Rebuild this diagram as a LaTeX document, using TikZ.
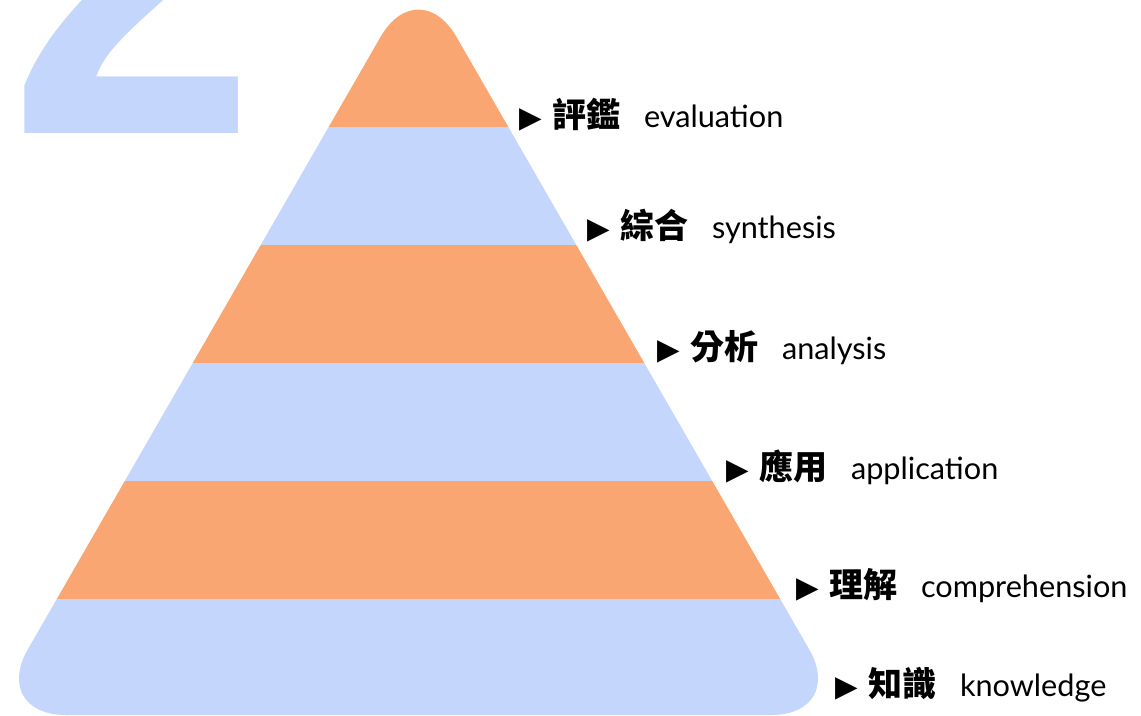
\documentclass[tikz,border=0pt]{standalone}
\usepackage{fontspec}
\newfontfamily\cjkfont{Noto Sans CJK TC}
\newfontfamily\latinfont{Lato}
\newfontfamily\trifont{DejaVu Sans}
\newfontfamily\digitfont{Liberation Sans}
\definecolor{orangeband}{RGB}{249,166,114}
\definecolor{blueband}{RGB}{196,214,252}
\newcommand\lvlabel[2]{\makebox[24.75pt][l]{\trifont\fontsize{22pt}{22pt}\selectfont ▶}\makebox[69pt][l]{\cjkfont\bfseries\fontsize{25.5pt}{26pt}\selectfont #1}{\latinfont\fontsize{23pt}{24pt}\selectfont #2}}
\tikzset{
  lvl/.style={anchor=base west, inner sep=0pt, outer sep=0pt, text=black},
  bigdigit/.style={anchor=base west, inner sep=0pt, outer sep=0pt, text=blueband,
    font=\digitfont\bfseries\fontsize{336pt}{336pt}\selectfont}
}
\begin{document}
\begin{tikzpicture}[x=0.75pt, y=-0.75pt]
\useasboundingbox (0,0) rectangle (1141,715);
\clip (0,0) rectangle (1141,715);
\node[bigdigit] (two) at (9,133) {\scalebox{0.99}[1.12]{2}};
\begin{scope}
  \clip[rounded corners=57pt] (418.5,-29) -- (847,715) -- (-10,715) -- cycle;
  \fill[orangeband] (-20,-40) rectangle (870,127);
  \fill[blueband] (-20,127) rectangle (870,245);
  \fill[orangeband] (-20,245) rectangle (870,363);
  \fill[blueband] (-20,363) rectangle (870,481);
  \fill[orangeband] (-20,481) rectangle (870,599);
  \fill[blueband] (-20,599) rectangle (870,720);
\end{scope}
\node[lvl] (l1) at (519,127) {\lvlabel{評鑑}{evaluation}};
\node[lvl] (l2) at (587,238) {\lvlabel{綜合}{synthesis}};
\node[lvl] (l3) at (657,359) {\lvlabel{分析}{analysis}};
\node[lvl] (l4) at (726,479) {\lvlabel{應用}{application}};
\node[lvl] (l5) at (796,597) {\lvlabel{理解}{comprehension}};
\node[lvl] (l6) at (835,696) {\lvlabel{知識}{knowledge}};
\end{tikzpicture}
\end{document}
